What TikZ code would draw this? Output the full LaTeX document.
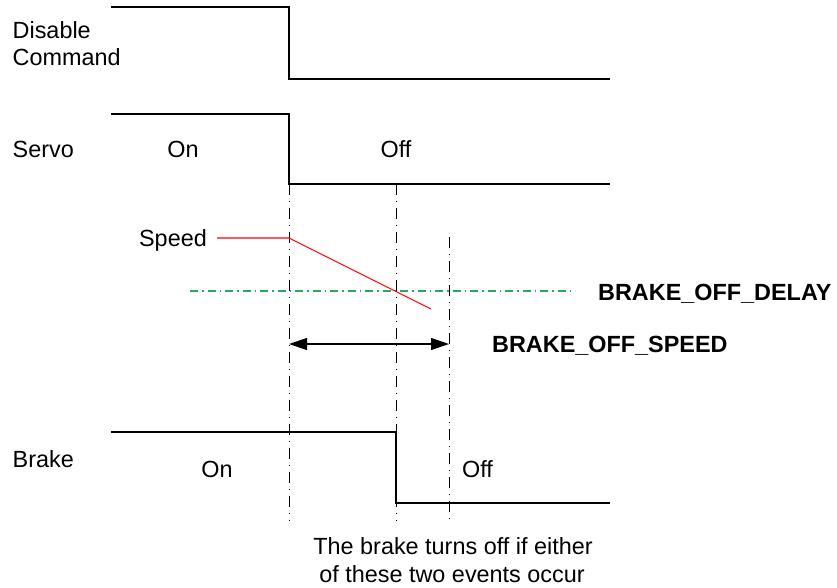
\documentclass[tikz,border=0pt]{standalone}
\usepackage{fontspec}
\setmainfont{Liberation Sans}
\usetikzlibrary{arrows.meta}
\definecolor{speedred}{RGB}{255,0,0}
\definecolor{delaygreen}{RGB}{40,170,90}
\tikzset{
  sig/.style={line width=1.3pt, line join=miter},
  mark line/.style={line width=1pt, dash pattern=on 11pt off 6pt on 1pt off 6pt},
  greenline/.style={delaygreen, line width=1.1pt, dash pattern=on 8pt off 4pt on 1.5pt off 4pt},
  speedline/.style={speedred, line width=1.1pt},
  lbl/.style={font=\fontsize{23.4}{28}\selectfont, inner sep=0pt},
  blbl/.style={font=\fontsize{23.4}{28}\selectfont\bfseries, inner sep=0pt},
  dimarrow/.style={line width=1.2pt, {Triangle[length=18pt,width=12pt]}-{Triangle[length=18pt,width=12pt]}},
}
\begin{document}
\begin{tikzpicture}[x=1pt,y=-1pt]
\useasboundingbox (0,0) rectangle (837,587);
% signals
\coordinate (d0) at (111,7); \coordinate (d1) at (289,7); \coordinate (d2) at (289,79); \coordinate (d3) at (610,79);
\draw[sig] (d0) -- (d1) -- (d2) -- (d3);
\coordinate (s0) at (111,114); \coordinate (s1) at (289,114); \coordinate (s2) at (289,184); \coordinate (s3) at (610,184);
\draw[sig] (s0) -- (s1) -- (s2) -- (s3);
\coordinate (b0) at (111,432); \coordinate (b1) at (396,432); \coordinate (b2) at (396,503); \coordinate (b3) at (610,503);
\draw[sig] (b0) -- (b1) -- (b2) -- (b3);
% marker lines
\coordinate (m1t) at (289,184); \coordinate (m1b) at (289,521);
\coordinate (m2t) at (396,184); \coordinate (m2b) at (396,521);
\coordinate (m3t) at (449,237); \coordinate (m3b) at (449,521);
\draw[mark line] (m1t) -- (m1b);
\draw[mark line] (m2t) -- (m2b);
\draw[mark line] (m3t) -- (m3b);
% green delay line
\coordinate (g0) at (190,291); \coordinate (g1) at (575,291);
\draw[greenline] (g0) -- (g1);
% speed
\coordinate (v0) at (217,238); \coordinate (v1) at (289,238); \coordinate (v2) at (431,309);
\draw[speedline] (v0) -- (v1) -- (v2);
% dimension arrow
\coordinate (a0) at (289,344); \coordinate (a1) at (449,344);
\draw[dimarrow] (a0) -- (a1);
% labels
\node[lbl, anchor=base west] (tdis) at (12.5,38) {Disable};
\node[lbl, anchor=base west] (tcmd) at (12.5,65) {Command};
\node[lbl, anchor=base west] (tservo) at (12.5,157) {Servo};
\node[lbl, anchor=base] (son) at (183,157) {On};
\node[lbl, anchor=base] (soff) at (396,157) {Off};
\node[lbl, anchor=base east] (tspeed) at (207,246) {Speed};
\node[blbl, anchor=base west] (tdelay) at (598,300) {BRAKE\_OFF\_DELAY};
\node[blbl, anchor=base west] (tspd) at (492,352) {BRAKE\_OFF\_SPEED};
\node[lbl, anchor=base west] (tbrake) at (12.5,467) {Brake};
\node[lbl, anchor=base] (bon) at (217,477) {On};
\node[lbl, anchor=base west] (boff) at (462,477) {Off};
\node[lbl, anchor=base] (note1) at (453,554) {The brake turns off if either};
\node[lbl, anchor=base] (note2) at (452,582) {of these two events occur};
\end{tikzpicture}
\end{document}
